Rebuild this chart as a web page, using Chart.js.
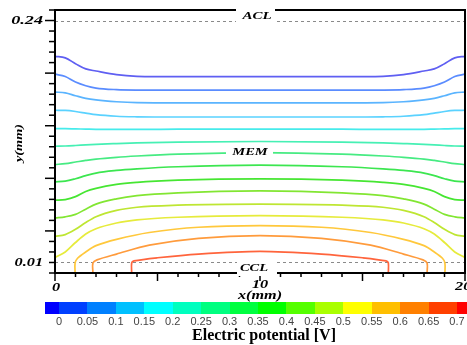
<!DOCTYPE html>
<html>
<head>
<meta charset="utf-8">
<script src="https://cdn.jsdelivr.net/npm/chart.js@4.4.1/dist/chart.umd.min.js"></script>
<style>
  html, body { margin: 0; padding: 0; background: #fff; }
</style>
</head>
<body>
<canvas id="myChart" width="467" height="345"></canvas>
<script>
// x positions (mm) for the contour lines that reach the side walls
const xPos = [0, 0.5, 1, 1.5, 2, 3, 4, 6, 10, 14, 16, 17, 18, 18.5, 19, 19.5, 20];

// y (mm) of each contour line at xPos
const line1 = [0.206, 0.2045, 0.199, 0.194, 0.192, 0.1885, 0.187, 0.1866, 0.1866, 0.1866, 0.187, 0.1885, 0.192, 0.194, 0.199, 0.2045, 0.206];
const line2 = [0.189, 0.1868, 0.1815, 0.178, 0.1758, 0.1743, 0.1739, 0.1738, 0.1738, 0.1738, 0.1739, 0.1743, 0.1758, 0.178, 0.1815, 0.1868, 0.189];
const line3 = [0.172, 0.1712, 0.1685, 0.166, 0.1645, 0.1628, 0.162, 0.1618, 0.1618, 0.1618, 0.162, 0.1628, 0.1645, 0.166, 0.1685, 0.1712, 0.172];
const line4 = [0.1547, 0.1545, 0.1535, 0.152, 0.1505, 0.149, 0.1485, 0.1483, 0.1483, 0.1483, 0.1485, 0.149, 0.1505, 0.152, 0.1535, 0.1545, 0.1547];
const line5 = [0.1373, 0.1372, 0.137, 0.1368, 0.1366, 0.1365, 0.1365, 0.1367, 0.1368, 0.1367, 0.1365, 0.1365, 0.1366, 0.1368, 0.137, 0.1372, 0.1373];
const line6 = [0.1205, 0.1207, 0.1212, 0.1218, 0.1223, 0.123, 0.1236, 0.1244, 0.125, 0.1244, 0.1236, 0.123, 0.1223, 0.1218, 0.1212, 0.1207, 0.1205];
const line7 = [0.1031, 0.104, 0.1055, 0.107, 0.1083, 0.11, 0.1112, 0.113, 0.1145, 0.113, 0.1112, 0.11, 0.1083, 0.107, 0.1055, 0.104, 0.1031];
const line8 = [0.0867, 0.0873, 0.0896, 0.0925, 0.095, 0.0975, 0.099, 0.101, 0.1025, 0.101, 0.099, 0.0975, 0.095, 0.0925, 0.0896, 0.0873, 0.0867];
const line9 = [0.0692, 0.0698, 0.0726, 0.0775, 0.0805, 0.0843, 0.0862, 0.0882, 0.0895, 0.0882, 0.0862, 0.0843, 0.0805, 0.0775, 0.0726, 0.0698, 0.0692];
const line10 = [0.0524, 0.0534, 0.0557, 0.0607, 0.0655, 0.0705, 0.0735, 0.0762, 0.078, 0.0762, 0.0735, 0.0705, 0.0655, 0.0607, 0.0557, 0.0534, 0.0524];
const line11 = [0.035, 0.0365, 0.0415, 0.048, 0.0535, 0.0595, 0.0625, 0.0645, 0.0655, 0.0645, 0.0625, 0.0595, 0.0535, 0.048, 0.0415, 0.0365, 0.035];
const line12 = [0.0147, 0.020, 0.029, 0.037, 0.042, 0.0475, 0.0505, 0.053, 0.0545, 0.053, 0.0505, 0.0475, 0.042, 0.037, 0.029, 0.020, 0.0147];

// lines that end on the CCL (bottom)
const line13X = [0.98, 0.98, 1.1, 1.5, 2, 3, 4.6, 7, 10, 13, 15.4, 17, 18, 18.5, 18.9, 19.02, 19.02];
const line13Y = [0, 0.0095, 0.014, 0.020, 0.026, 0.032, 0.0385, 0.0435, 0.045, 0.0435, 0.0385, 0.032, 0.026, 0.020, 0.014, 0.0095, 0];
const line14X = [1.85, 1.85, 2.05, 3, 4.6, 7, 10, 13, 15.4, 17, 17.95, 18.15, 18.15];
const line14Y = [0, 0.0095, 0.0125, 0.018, 0.0265, 0.033, 0.0355, 0.033, 0.0265, 0.018, 0.0125, 0.0095, 0];
const line15X = [3.74, 3.74, 3.85, 5, 7, 10, 13, 15, 16.15, 16.26, 16.26];
const line15Y = [0, 0.0095, 0.0115, 0.0145, 0.018, 0.0205, 0.018, 0.0145, 0.0115, 0.0095, 0];

const lineColors = ['#5f5ff2', '#5a8cff', '#5ab4ff', '#5ad2ff', '#46ebeb', '#46f0b4', '#46eb82', '#3ce650',
                    '#46e632', '#82e632', '#bee632', '#e6eb3c', '#ffc83c', '#ff9b3c', '#ff643c'];

// colour bar
const barColors = ['#0000ff', '#0040ff', '#0080ff', '#00c0ff', '#00ffff', '#00ffbf', '#00ff80', '#00ff40',
                   '#00ff00', '#55ff00', '#aaff00', '#ffff00', '#ffbf00', '#ff8000', '#ff4000', '#ff0000'];
const barLabels = ['0', '0.05', '0.1', '0.15', '0.2', '0.25', '0.3', '0.35', '0.4', '0.45', '0.5', '0.55', '0.6', '0.65', '0.7'];

const wallLines = [line1, line2, line3, line4, line5, line6, line7, line8, line9, line10, line11, line12];
const datasets = wallLines.map((ys, i) => ({
    data: ys.map((y, j) => ({ x: xPos[j], y: y })),
    borderColor: lineColors[i],
    cubicInterpolationMode: 'monotone'
}));
[[line13X, line13Y], [line14X, line14Y], [line15X, line15Y]].forEach((p, i) => {
    datasets.push({
        data: p[0].map((x, j) => ({ x: x, y: p[1][j] })),
        borderColor: lineColors[12 + i],
        tension: 0.3
    });
});

function stretchText(ctx, txt, x, y, font, sx, align) {
    ctx.save();
    ctx.font = font;
    ctx.textBaseline = 'middle';
    ctx.textAlign = align || 'center';
    ctx.translate(x, y);
    ctx.scale(sx, 1);
    ctx.fillText(txt, 0, 0);
    ctx.restore();
}

const SERIF = '"Liberation Serif", "Times New Roman", serif';

const decor = {
    id: 'decor',
    beforeDatasetsDraw(chart) {
        const ctx = chart.ctx, a = chart.chartArea, ys = chart.scales.y;
        ctx.save();
        ctx.strokeStyle = '#8a8a8a';
        ctx.lineWidth = 1;
        ctx.setLineDash([3, 3]);
        [0.24, 0.01].forEach(v => {
            const py = Math.round(ys.getPixelForValue(v)) + 0.5;
            ctx.beginPath();
            ctx.moveTo(a.left, py);
            ctx.lineTo(a.right, py);
            ctx.stroke();
        });
        ctx.restore();
    },
    afterDraw(chart) {
        const ctx = chart.ctx, a = chart.chartArea;
        const xs = chart.scales.x, ys = chart.scales.y;
        ctx.save();
        // frame
        ctx.strokeStyle = '#000';
        ctx.lineWidth = 2;
        ctx.strokeRect(a.left, a.top, a.right - a.left, a.bottom - a.top);
        ctx.lineWidth = 1.5;
        // y ticks
        for (let i = 0; i <= 25; i++) {
            const py = ys.getPixelForValue(i / 100);
            const len = (i % 5 === 4) ? 10 : 6;
            ctx.beginPath();
            ctx.moveTo(a.left, py);
            ctx.lineTo(a.left - len, py);
            ctx.stroke();
        }
        // x ticks
        for (let i = 0; i <= 20; i++) {
            const px = xs.getPixelForValue(i);
            const len = (i % 5 === 0) ? 8 : 4;
            ctx.beginPath();
            ctx.moveTo(px, a.bottom);
            ctx.lineTo(px, a.bottom + len);
            ctx.stroke();
        }
        // region labels with white gaps
        ctx.fillStyle = '#fff';
        ctx.fillRect(236, 8, 39, 15);
        ctx.fillRect(226, 146, 47, 12);
        ctx.fillRect(237, 261, 40, 15);
        ctx.fillStyle = '#000';
        const lab = 'italic bold 10px ' + SERIF;
        stretchText(ctx, 'ACL', 257, 16, lab, 1.5);
        stretchText(ctx, 'MEM', 250, 152, lab, 1.45);
        stretchText(ctx, 'CCL', 254, 268, lab, 1.45);
        // tick labels
        const tk = 'italic bold 12.5px ' + SERIF;
        stretchText(ctx, '0.24', 43, ys.getPixelForValue(0.24), tk, 1.45, 'right');
        stretchText(ctx, '0.01', 43, ys.getPixelForValue(0.01), tk, 1.3, 'right');
        stretchText(ctx, '0', xs.getPixelForValue(0) + 1, 288, tk, 1.3);
        stretchText(ctx, '10', xs.getPixelForValue(10), 285, tk, 1.3);
        stretchText(ctx, '20', 455, 287, tk, 1.3, 'left');
        // axis titles
        stretchText(ctx, 'x(mm)', 260, 296, 'italic bold 12px ' + SERIF, 1.35);
        ctx.save();
        ctx.translate(19, 143);
        ctx.rotate(-Math.PI / 2);
        stretchText(ctx, 'y(mm)', 0, 0, 'italic bold 11px ' + SERIF, 1.3);
        ctx.restore();
        // colour bar
        const step = 28.43, x0 = 59, top = 302, h = 12;
        barColors.forEach((c, i) => {
            let l = x0 + (i - 1) * step, r = x0 + i * step;
            if (i === 0) l = 45;
            ctx.fillStyle = c;
            ctx.fillRect(Math.round(l), top, Math.round(r) - Math.round(l) + 1, h);
        });
        ctx.fillStyle = '#444';
        ctx.font = '11px "Liberation Sans", Arial, sans-serif';
        ctx.textAlign = 'center';
        ctx.textBaseline = 'middle';
        barLabels.forEach((t, i) => ctx.fillText(t, x0 + i * step, 322));
        ctx.fillStyle = '#000';
        ctx.font = 'bold 16px ' + SERIF;
        ctx.fillText('Electric potential [V]', 264, 336);
        ctx.restore();
    }
};

const ctx = document.getElementById('myChart').getContext('2d');
const myChart = new Chart(ctx, {
    type: 'line',
    data: { datasets: datasets },
    options: {
        responsive: false,
        animation: false,
        devicePixelRatio: 1,
        layout: { padding: { left: 55, right: 2, top: 10, bottom: 72 } },
        plugins: { legend: { display: false }, tooltip: { enabled: false } },
        elements: { point: { radius: 0 }, line: { borderWidth: 1.7, fill: false } },
        scales: {
            x: { type: 'linear', min: 0, max: 20, display: false },
            y: { type: 'linear', min: 0, max: 0.25, display: false }
        }
    },
    plugins: [decor]
});
</script>
</body>
</html>
